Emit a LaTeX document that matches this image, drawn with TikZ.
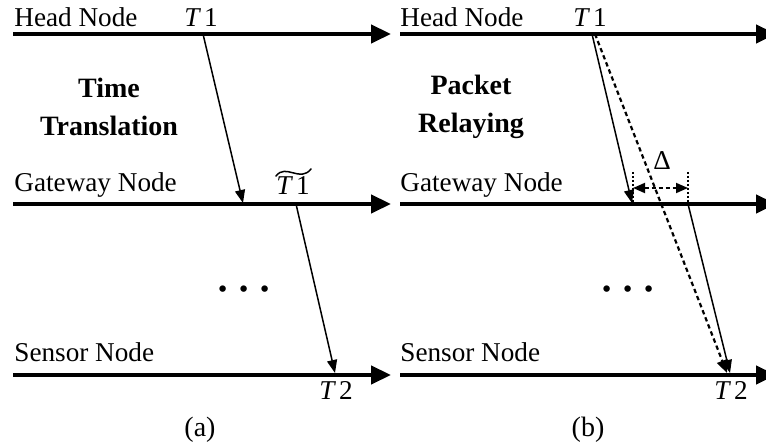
\documentclass[tikz,border=0pt]{standalone}
\usepackage{fontspec}
\setmainfont{Liberation Serif}
\usetikzlibrary{arrows.meta}
\begin{document}
\begin{tikzpicture}[x=0.5pt,y=-0.5pt,
  timeline/.style={line width=2.25pt,-{Triangle[length=10pt,width=9pt]}},
  msg/.style={line width=0.75pt,-{Triangle[length=6.5pt,width=5pt]}},
  relay/.style={line width=1.1pt,dash pattern=on 2.2pt off 1.6pt,-{Triangle[length=6.5pt,width=5.5pt]}},
  guide/.style={line width=0.6pt,dash pattern=on 1pt off 1pt},
  span/.style={line width=0.9pt,dash pattern=on 2pt off 1.5pt,{Triangle[length=6pt,width=5pt]}-{Triangle[length=6pt,width=5pt]}},
  lbl/.style={inner sep=0pt,anchor=base west,font=\fontsize{13.6}{15}\selectfont},
  tm/.style={inner sep=0pt,anchor=base,font=\fontsize{13.6}{15}\selectfont},
  title/.style={inner sep=0pt,align=center,font=\fontsize{14}{18}\selectfont\bfseries},
  subcap/.style={inner sep=0pt,anchor=base,font=\fontsize{14}{16}\selectfont},
  ellip/.style={inner sep=0pt,font=\fontsize{20}{22}\selectfont\boldmath}]
\clip (0,0) rectangle (766,448);
\useasboundingbox (0,0) rectangle (766,448);

% ---- panel (a): time translation ----
\coordinate (aH0) at (13,34);   \coordinate (aH1) at (391,34);
\coordinate (aG0) at (13,204);  \coordinate (aG1) at (391,204);
\coordinate (aS0) at (13,375);  \coordinate (aS1) at (391,375);
\draw[timeline] (aH0) -- (aH1);
\draw[timeline] (aG0) -- (aG1);
\draw[timeline] (aS0) -- (aS1);
\node[lbl] (aHl) at (14,27) {Head Node};
\node[lbl] (aGl) at (14,192) {Gateway Node};
\node[lbl] (aSl) at (14,362) {Sensor Node};
\node[tm] (aT1) at (201,27) {\itshape T\,\upshape 1};
\node[tm] (aT1t) at (293,195) {\itshape T\,\upshape 1};
% wide tilde over the translated timestamp
\draw[line width=0.75pt,line cap=round] (276,176) .. controls (286,163) and (300,183) .. (311,169);
\node[tm] (aT2) at (336,400) {\itshape T\,\upshape 2};
\node[title] (aTitle) at (109,107) {Time\\[1pt]Translation};
\node[ellip] (aDots) at (244,290) {$\cdots$};
\node[subcap] (aCap) at (200,437) {(a)};
\coordinate (aM0) at (203,34);  \coordinate (aM1) at (243,203);
\coordinate (aM2) at (296,204); \coordinate (aM3) at (335,373);
\draw[msg] (aM0) -- (aM1);
\draw[msg] (aM2) -- (aM3);

% ---- panel (b): packet relaying ----
\coordinate (bH0) at (400,34);  \coordinate (bH1) at (776,34);
\coordinate (bG0) at (400,204); \coordinate (bG1) at (776,204);
\coordinate (bS0) at (400,375); \coordinate (bS1) at (776,375);
\draw[timeline] (bH0) -- (bH1);
\draw[timeline] (bG0) -- (bG1);
\draw[timeline] (bS0) -- (bS1);
\node[lbl] (bHl) at (400,27) {Head Node};
\node[lbl] (bGl) at (400,192) {Gateway Node};
\node[lbl] (bSl) at (400,362) {Sensor Node};
\node[tm] (bT1) at (590,27) {\itshape T\,\upshape 1};
\node[tm] (bT2) at (731,400) {\itshape T\,\upshape 2};
\node[title] (bTitle) at (471,107) {Packet\\[1pt]Relaying};
\node[ellip] (bDots) at (628,290) {$\cdots$};
\node[subcap] (bCap) at (588,437) {(b)};
\coordinate (bM0) at (592,34);  \coordinate (bM1) at (632,203);
\coordinate (bR0) at (595,34);  \coordinate (bR1) at (727,373);
\coordinate (bM2) at (688,204); \coordinate (bM3) at (730,373);
\draw[msg] (bM0) -- (bM1);
\draw[relay] (bR0) -- (bR1);
\draw[msg] (bM2) -- (bM3);
% delay bracket
\coordinate (bD0) at (633,172); \coordinate (bD1) at (633,204);
\coordinate (bD2) at (688,172); \coordinate (bD3) at (688,204);
\draw[guide] (bD0) -- (bD1);
\draw[guide] (bD2) -- (bD3);
\coordinate (bA0) at (633,188); \coordinate (bA1) at (688,188);
\draw[span] (bA0) -- (bA1);
\node[tm] (bDelta) at (662,170) {Δ};
\end{tikzpicture}
\end{document}
